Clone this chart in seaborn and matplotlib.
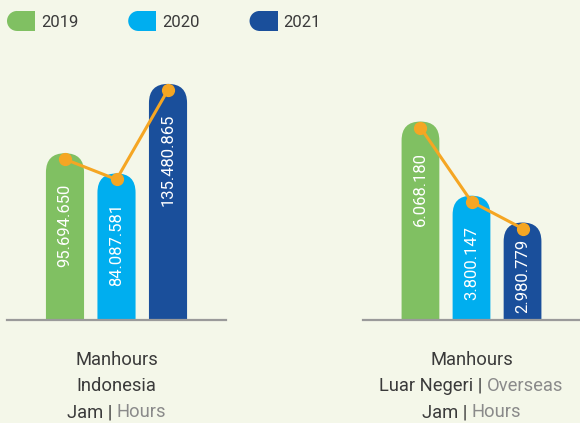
import numpy as np
import pandas as pd
import matplotlib
matplotlib.use('Agg')
import matplotlib.pyplot as plt
import matplotlib.transforms as mtransforms
from matplotlib.patches import FancyBboxPatch, Wedge, Rectangle, Patch
from matplotlib.legend_handler import HandlerPatch
from matplotlib.offsetbox import TextArea, HPacker, AnnotationBbox
import seaborn as sns

# data
years = ['2019', '2020', '2021']
indonesia = [95694650, 84087581, 135480865]
overseas = [6068180, 3800147, 2980779]
colors = ['#80c062', '#00aeef', '#1a4f9b']
title_id = ['Manhours', 'Indonesia']
title_os = ['Manhours', 'Luar Negeri', 'Overseas']

BG = '#f4f7e9'
DARK = '#3a3a3a'
GREY = '#8a8a8a'
ORANGE = '#f5a623'

sns.set_style('white')
plt.rcParams['font.family'] = ['Roboto', 'DejaVu Sans']

fig = plt.figure(figsize=(5.8, 4.23), dpi=100)
fig.patch.set_facecolor(BG)

W, H = 580, 423
ax1 = fig.add_axes([7 / W, 103 / H, 219 / W, 260 / H])
ax2 = fig.add_axes([363 / W, 103 / H, 217 / W, 260 / H])


def fmt(v):
    return f'{v:,}'.replace(',', '.')


def draw_panel(ax, values, ytop):
    df = pd.DataFrame({'year': years, 'value': values})
    sns.barplot(data=df, x='year', y='value', hue='year', palette=colors,
                width=0.74, saturation=1, legend=False, ax=ax)
    ax.set_facecolor(BG)
    ax.set_xlim(-1.126, 3.126)
    ax.set_ylim(0, ytop)
    for s in ['top', 'left', 'right']:
        ax.spines[s].set_visible(False)
    ax.spines['bottom'].set_color('#9a9a9a')
    ax.spines['bottom'].set_linewidth(1.6)
    ax.set_xticks([])
    ax.set_yticks([])
    ax.set_xlabel('')
    ax.set_ylabel('')

    # pixel scale
    bb = ax.get_window_extent()
    px_x = bb.width / (ax.get_xlim()[1] - ax.get_xlim()[0])
    px_y = bb.height / (ax.get_ylim()[1] - ax.get_ylim()[0])
    asp = px_x / px_y

    # rounded tops
    bars = list(ax.patches)
    for p in bars:
        x, w, h = p.get_x(), p.get_width(), p.get_height()
        fc = p.get_facecolor()
        p.remove()
        below = ytop * 0.5
        rb = FancyBboxPatch((x, -below), w, h + below,
                            boxstyle=f'round,pad=0,rounding_size={w / 2}',
                            mutation_aspect=asp, facecolor=fc,
                            edgecolor='none', zorder=2)
        ax.add_patch(rb)

    # orange line through dots
    pos = np.arange(len(values))
    tr = mtransforms.offset_copy(ax.transData, fig=fig, y=-6, units='dots')
    ax.plot(pos, values, color=ORANGE, lw=2.2, marker='o', ms=8.5,
            transform=tr, zorder=4, clip_on=False)

    # value labels
    for i, v in enumerate(values):
        hpx = v * px_y
        t = ax.text(i, v, fmt(v), rotation=90, color='white', fontsize=12,
                    ha='center', va='top', zorder=3,
                    transform=mtransforms.offset_copy(ax.transData, fig=fig, y=-30, units='dots'))
        fig.canvas.draw()
        tl = t.get_window_extent().height
        if hpx - 30 - tl < 7:
            t.set_transform(mtransforms.offset_copy(ax.transData, fig=fig, y=7, units='dots'))
            t.set_y(0)
            t.set_va('bottom')


draw_panel(ax1, indonesia, 149.2e6)
draw_panel(ax2, overseas, 7.95e6)


def label_line(ax, parts, y):
    boxes = [TextArea(s, textprops=dict(color=c, fontsize=13.2))
             for s, c in parts]
    pack = HPacker(children=boxes, align='baseline', pad=0, sep=0)
    ab = AnnotationBbox(pack, (1, y), xycoords=ax.get_xaxis_transform(),
                        box_alignment=(0.5, 0.5), frameon=False,
                        annotation_clip=False)
    ax.add_artist(ab)


label_line(ax1, [(title_id[0], DARK)], -0.154)
label_line(ax1, [(title_id[1], DARK)], -0.254)
label_line(ax1, [('Jam | ', DARK), ('Hours', GREY)], -0.354)

label_line(ax2, [(title_os[0], DARK)], -0.154)
label_line(ax2, [(title_os[1] + ' | ', DARK), (title_os[2], GREY)], -0.254)
label_line(ax2, [('Jam | ', DARK), ('Hours', GREY)], -0.354)


# legend with half-rounded swatches (sizes in points)
class HalfRound(HandlerPatch):
    def create_artists(self, legend, orig, xd, yd, w, h, fs, trans):
        sh = 14.4
        sw = 20.2
        x0 = -xd
        yc = -yd + h / 2
        r = sh / 2
        fc = orig.get_facecolor()
        wed = Wedge((x0 + r, yc), r, 90, 270, facecolor=fc, lw=0, transform=trans)
        rect = Rectangle((x0 + r - 0.3, yc - r), sw - r + 0.3, sh, facecolor=fc, lw=0,
                         transform=trans)
        return [wed, rect]


handles = [Patch(facecolor=c, label=y) for c, y in zip(colors, years)]
fig.legend(handles=handles, loc='center left', bbox_to_anchor=(7 / W, 1 - 21 / H),
           ncol=3, frameon=False, prop={'size': 12, 'weight': 'normal'},
           labelcolor=DARK,
           handlelength=1.68, handleheight=1.2, handletextpad=0.35,
           columnspacing=3.0, borderpad=0, borderaxespad=0,
           handler_map={Patch: HalfRound()})

fig.savefig('out.png', dpi=100, facecolor=BG)
